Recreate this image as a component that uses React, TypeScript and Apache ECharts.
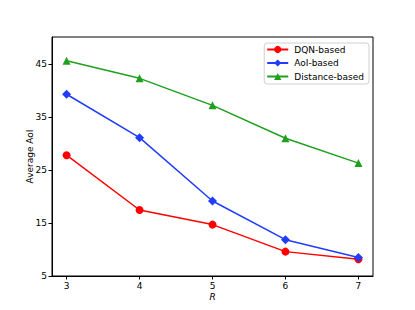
import React, { useEffect, useRef } from "react";
import * as echarts from "echarts";

const xValues = [3, 4, 5, 6, 7];
const dqnBased = [27.8, 17.45, 14.7, 9.6, 8.15];
const aoiBased = [39.3, 31.1, 19.15, 11.85, 8.5];
const distanceBased = [45.6, 42.3, 37.2, 31.0, 26.3];
const xTicks = [3, 4, 5, 6, 7];
const yTicks = [5, 15, 25, 35, 45];

const FONT = "DejaVu Sans";

export default function App() {
  const ref = useRef<HTMLDivElement>(null);
  useEffect(() => {
    if (!ref.current) return;
    const chart = echarts.init(ref.current, null, { renderer: "svg" });
    const mk = (name: string, data: number[], color: string, symbol: string, size: number) => ({
      name,
      type: "line",
      data: xValues.map((x, i) => [x, data[i]]),
      symbol,
      symbolSize: size,
      showAllSymbol: true,
      lineStyle: { color, width: 1.5 },
      itemStyle: { color, borderWidth: 0 },
      emphasis: { disabled: true },
    });
    chart.setOption({
      animation: false,
      backgroundColor: "#ffffff",
      textStyle: { fontFamily: FONT },
      grid: {
        left: 52,
        right: 415 - 373,
        top: 37,
        bottom: 310 - 276,
        show: true,
        borderColor: "#000",
        borderWidth: 1,
        containLabel: false,
      },
      legend: {
        orient: "vertical",
        right: 415 - 369,
        top: 43,
        backgroundColor: "#fff",
        borderColor: "#d0d0d0",
        borderWidth: 1,
        borderRadius: 3,
        padding: [2, 5, 3, 2],
        itemWidth: 21,
        itemHeight: 9,
        itemGap: 4.5,
        textStyle: { fontFamily: FONT, fontSize: 9, color: "#000", padding: [0, 0, 0, 1] },
        data: ["DQN-based", "AoI-based", "Distance-based"],
      },
      xAxis: {
        type: "value",
        min: 2.8,
        max: 7.2,
        name: "R",
        nameLocation: "middle",
        nameGap: 16,
        nameMoveOverlap: false,
        nameTextStyle: { fontFamily: FONT, fontSize: 9, fontStyle: "italic", color: "#000" },
        axisLine: { show: true, onZero: false, lineStyle: { color: "#000", width: 1 } },
        axisTick: { show: true, length: 3.5, lineStyle: { color: "#000" }, customValues: xTicks },
        axisLabel: { fontFamily: FONT, fontSize: 9, color: "#000", margin: 5, customValues: xTicks },
        splitLine: { show: false },
      },
      yAxis: {
        type: "value",
        min: 5,
        max: 50.1,
        name: "Average AoI",
        nameLocation: "middle",
        nameGap: 18,
        nameMoveOverlap: false,
        nameTextStyle: { fontFamily: FONT, fontSize: 9, color: "#000" },
        axisLine: { show: true, onZero: false, lineStyle: { color: "#000", width: 1 } },
        axisTick: { show: true, length: 3.5, lineStyle: { color: "#000" }, customValues: yTicks },
        axisLabel: { fontFamily: FONT, fontSize: 9, color: "#000", margin: 5, customValues: yTicks },
        splitLine: { show: false },
      },
      series: [
        mk("DQN-based", dqnBased, "#ff0000", "circle", 8),
        mk("AoI-based", aoiBased, "#1f3cff", "diamond", 9),
        mk("Distance-based", distanceBased, "#1ea01e", "triangle", 8),
      ],
    });
    return () => chart.dispose();
  }, []);
  return (
    <div
      ref={ref}
      style={{ position: "fixed", left: 0, top: 0, width: 415, height: 310 }}
    />
  );
}
